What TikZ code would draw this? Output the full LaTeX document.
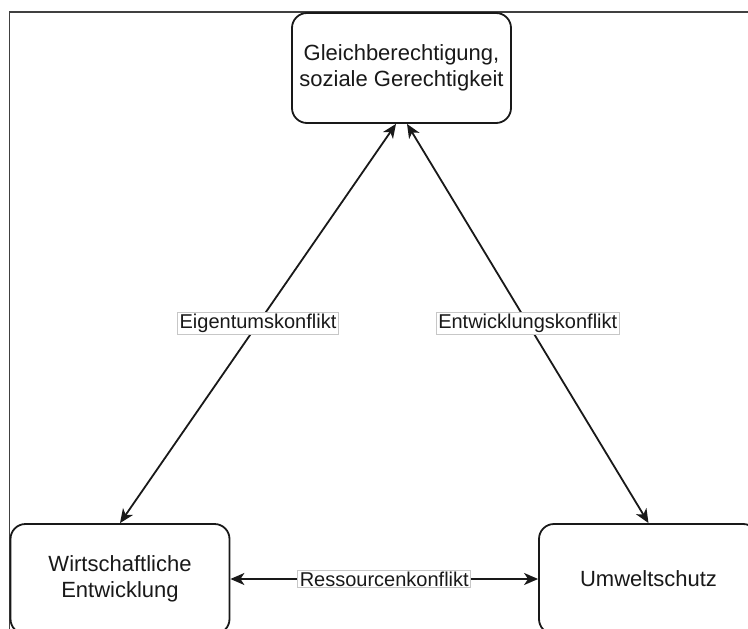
\documentclass[tikz,border=0pt]{standalone}
\usepackage{fontspec}
\setmainfont{Liberation Sans}
\usetikzlibrary{arrows.meta}
\tikzset{
  box/.style={draw=black!90, line width=1.8pt, rounded corners=15pt, fill=white,
    minimum width=219pt, minimum height=110pt, align=center, inner sep=0pt,
    text=black!90, font=\fontsize{22}{26.4}\selectfont},
  conn/.style={line width=1.8pt, draw=black!90,
    {Stealth[length=14pt,width=12pt,inset=4pt]}-{Stealth[length=14pt,width=12pt,inset=4pt]}},
  lbl/.style={fill=white, draw=black!22, line width=0.8pt, inner xsep=2pt, inner ysep=1.5pt,
    text=black!90, font=\fontsize{20}{24}\selectfont}
}
\begin{document}
\begin{tikzpicture}[x=1pt,y=-1pt]
\useasboundingbox (0,0) rectangle (748,629);
\clip (0,0) rectangle (748,629);
\fill[white] (0,0) rectangle (748,629);
\draw[black!75, line width=1.3pt] (9.5,12) rectangle (770,650);
\node[box] (top) at (401.5,68) {Gleichberechtigung,\\soziale Gerechtigkeit};
\node[box] (wl) at (120,579) {Wirtschaftliche\\Entwicklung};
\node[box] (um) at (648.5,579) {Umweltschutz};
\draw[conn] ([xshift=-5.5pt]top.south) -- (wl.north) node[midway, lbl] (l1) {Eigentumskonflikt};
\draw[conn] ([xshift=5.5pt]top.south) -- (um.north) node[midway, lbl] (l2) {Entwicklungskonflikt};
\draw[conn] (wl.east) -- (um.west) node[midway, lbl] (l3) {Ressourcenkonflikt};
\end{tikzpicture}
\end{document}
